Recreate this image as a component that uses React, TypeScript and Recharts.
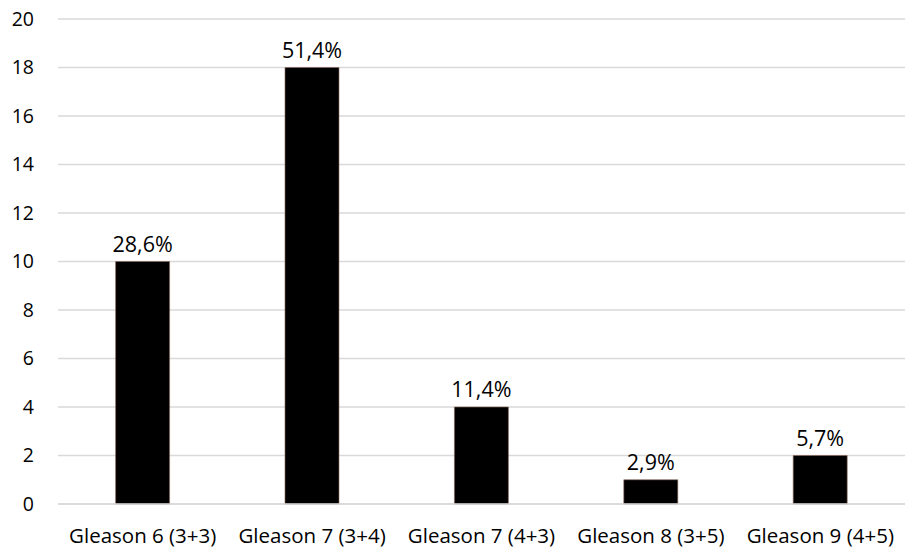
import { BarChart, Bar, XAxis, YAxis, CartesianGrid, LabelList } from "recharts";

const categories = [
  "Gleason 6 (3+3)",
  "Gleason 7 (3+4)",
  "Gleason 7 (4+3)",
  "Gleason 8 (3+5)",
  "Gleason 9 (4+5)",
];
const counts = [10, 18, 4, 1, 2];
const percentLabels = ["28,6%", "51,4%", "11,4%", "2,9%", "5,7%"];
const yTicks = [0, 2, 4, 6, 8, 10, 12, 14, 16, 18, 20];

const data = categories.map((name, i) => ({
  name,
  count: counts[i],
  label: percentLabels[i],
}));

const font = "'Open Sans', Calibri, sans-serif";

export default function App() {
  return (
    <div style={{ position: "absolute", left: 0, top: 0, background: "#fff" }}>
      <BarChart
        width={917}
        height={550}
        data={data}
        margin={{ top: 19, right: 12, bottom: 10, left: 0 }}
        barCategoryGap="34%"
      >
        <CartesianGrid vertical={false} stroke="#d9d9d9" strokeWidth={1.5} />
        <XAxis
          dataKey="name"
          axisLine={{ stroke: "#d9d9d9", strokeWidth: 1.5 }}
          tickLine={false}
          height={36}
          tickMargin={18}
          tick={{ fill: "#000", fontSize: 20.5, fontFamily: font }}
          interval={0}
        />
        <YAxis
          width={58}
          domain={[0, 20]}
          ticks={yTicks}
          axisLine={false}
          tickLine={false}
          tickMargin={18}
          tick={{ fill: "#000", fontSize: 19.5, fontFamily: font }}
        />
        <Bar
          dataKey="count"
          fill="#000"
          stroke="#8b6a5a"
          strokeWidth={0.6}
          isAnimationActive={false}
        >
          <LabelList
            dataKey="label"
            position="top"
            offset={10}
            style={{ fill: "#000", fontSize: 21.5, fontFamily: font }}
          />
        </Bar>
      </BarChart>
    </div>
  );
}
